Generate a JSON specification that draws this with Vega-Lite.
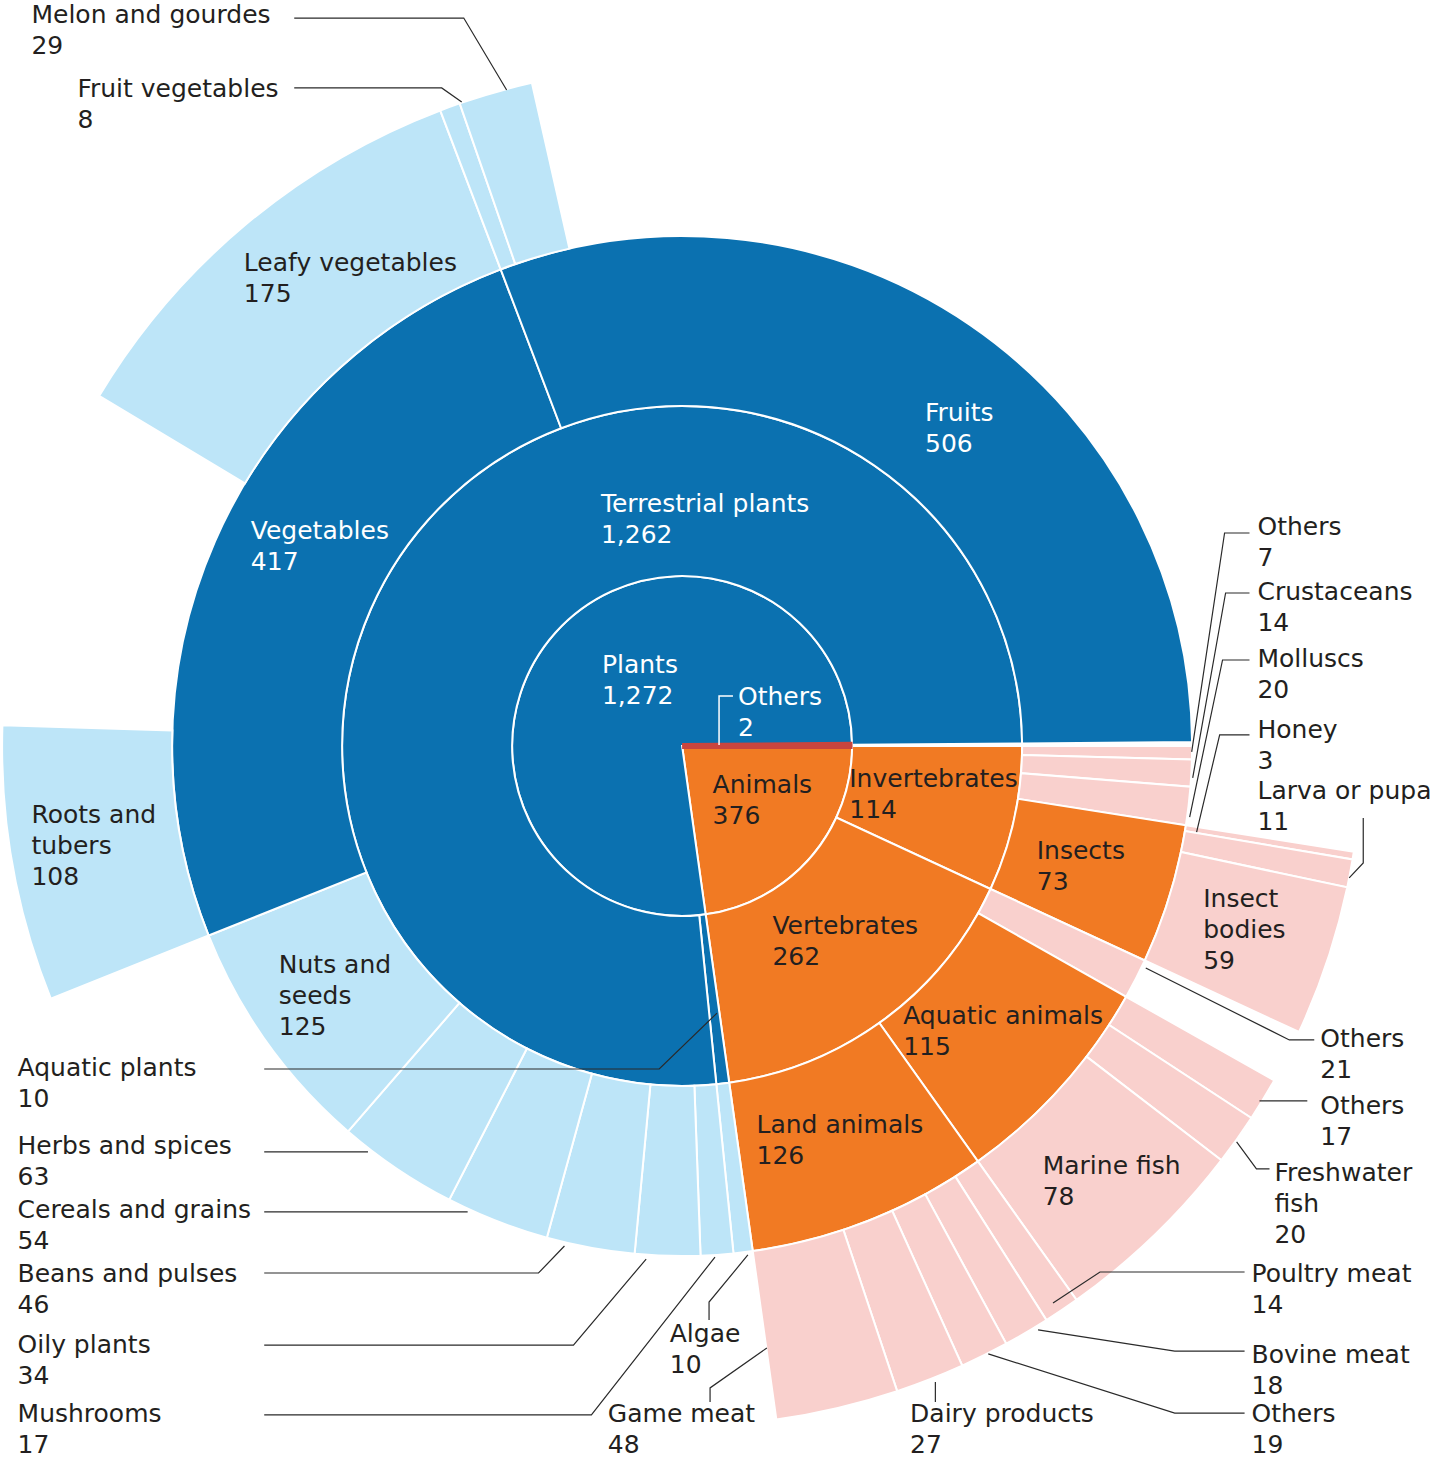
{
  "$schema": "https://vega.github.io/schema/vega-lite/v6.json",
  "width": 1431,
  "height": 1460,
  "autosize": {"type": "fit", "contains": "padding"},
  "padding": 0,
  "background": "white",
  "config": {"view": {"stroke": null}},
  "datasets": {
    "nodes": [
      {"level": 1, "ord": 1, "name": "Animals", "value": 376, "type": "Animal group"},
      {"level": 1, "ord": 2, "name": "Plants", "value": 1272, "type": "Plant group"},
      {"level": 1, "ord": 3, "name": "Others", "value": 2, "type": "Other"},
      {"level": 2, "ord": 1, "name": "Invertebrates", "value": 114, "type": "Animal group"},
      {"level": 2, "ord": 2, "name": "Vertebrates", "value": 262, "type": "Animal group"},
      {"level": 2, "ord": 3, "name": "Aquatic plants", "value": 10, "type": "Plant group"},
      {"level": 2, "ord": 4, "name": "Terrestrial plants", "value": 1262, "type": "Plant group"},
      {"level": 2, "ord": 5, "name": "Others (not subdivided)", "value": 2, "type": "gap"},
      {"level": 3, "ord": 1, "name": "Others", "value": 7, "type": "Animal item"},
      {"level": 3, "ord": 2, "name": "Crustaceans", "value": 14, "type": "Animal item"},
      {"level": 3, "ord": 3, "name": "Molluscs", "value": 20, "type": "Animal item"},
      {"level": 3, "ord": 4, "name": "Insects", "value": 73, "type": "Animal group"},
      {"level": 3, "ord": 5, "name": "Others", "value": 21, "type": "Animal item"},
      {"level": 3, "ord": 6, "name": "Aquatic animals", "value": 115, "type": "Animal group"},
      {"level": 3, "ord": 7, "name": "Land animals", "value": 126, "type": "Animal group"},
      {"level": 3, "ord": 8, "name": "Algae", "value": 10, "type": "Plant item"},
      {"level": 3, "ord": 9, "name": "Mushrooms", "value": 17, "type": "Plant item"},
      {"level": 3, "ord": 10, "name": "Oily plants", "value": 34, "type": "Plant item"},
      {"level": 3, "ord": 11, "name": "Beans and pulses", "value": 46, "type": "Plant item"},
      {"level": 3, "ord": 12, "name": "Cereals and grains", "value": 54, "type": "Plant item"},
      {"level": 3, "ord": 13, "name": "Herbs and spices", "value": 63, "type": "Plant item"},
      {"level": 3, "ord": 14, "name": "Nuts and seeds", "value": 125, "type": "Plant item"},
      {"level": 3, "ord": 15, "name": "Vegetables", "value": 417, "type": "Plant group"},
      {"level": 3, "ord": 16, "name": "Fruits", "value": 506, "type": "Plant group"},
      {"level": 3, "ord": 17, "name": "Others (not subdivided)", "value": 2, "type": "gap"},
      {"level": 4, "ord": 1, "name": "Invertebrates, other (not subdivided)", "value": 41, "type": "gap"},
      {"level": 4, "ord": 2, "name": "Honey", "value": 3, "type": "Animal item"},
      {"level": 4, "ord": 3, "name": "Larva or pupa", "value": 11, "type": "Animal item"},
      {"level": 4, "ord": 4, "name": "Insect bodies", "value": 59, "type": "Animal item"},
      {"level": 4, "ord": 5, "name": "Vertebrates, other (not subdivided)", "value": 21, "type": "gap"},
      {"level": 4, "ord": 6, "name": "Others", "value": 17, "type": "Animal item"},
      {"level": 4, "ord": 7, "name": "Freshwater fish", "value": 20, "type": "Animal item"},
      {"level": 4, "ord": 8, "name": "Marine fish", "value": 78, "type": "Animal item"},
      {"level": 4, "ord": 9, "name": "Poultry meat", "value": 14, "type": "Animal item"},
      {"level": 4, "ord": 10, "name": "Bovine meat", "value": 18, "type": "Animal item"},
      {"level": 4, "ord": 11, "name": "Others", "value": 19, "type": "Animal item"},
      {"level": 4, "ord": 12, "name": "Dairy products", "value": 27, "type": "Animal item"},
      {"level": 4, "ord": 13, "name": "Game meat", "value": 48, "type": "Animal item"},
      {"level": 4, "ord": 14, "name": "Plant items (not subdivided)", "value": 349, "type": "gap"},
      {"level": 4, "ord": 15, "name": "Roots and tubers", "value": 108, "type": "Plant item"},
      {"level": 4, "ord": 16, "name": "Vegetables, other (not subdivided)", "value": 134, "type": "gap"},
      {"level": 4, "ord": 17, "name": "Leafy vegetables", "value": 175, "type": "Plant item"},
      {"level": 4, "ord": 18, "name": "Fruit vegetables", "value": 8, "type": "Plant item"},
      {"level": 4, "ord": 19, "name": "Melon and gourdes", "value": 29, "type": "Plant item"},
      {"level": 4, "ord": 20, "name": "Fruits, other (not subdivided)", "value": 469, "type": "gap"},
      {"level": 4, "ord": 21, "name": "Others (not subdivided)", "value": 2, "type": "gap"}
    ],
    "labels": [
      {"label": "Plants\n1,272", "lx": -0.473, "ly": 0.429},
      {"label": "Others\n2", "lx": 0.33, "ly": 0.241},
      {"label": "Terrestrial plants\n1,262", "lx": -0.479, "ly": 1.376},
      {"label": "Fruits\n506", "lx": 1.433, "ly": 1.912},
      {"label": "Vegetables\n417", "lx": -2.544, "ly": 1.218},
      {"label": "Leafy vegetables\n175", "lx": -2.585, "ly": 2.794},
      {"label": "Roots and\ntubers\n108", "lx": -3.838, "ly": -0.453},
      {"label": "Nuts and\nseeds\n125", "lx": -2.379, "ly": -1.335},
      {"label": "Animals\n376", "lx": 0.18, "ly": -0.276},
      {"label": "Invertebrates\n114", "lx": 0.986, "ly": -0.241},
      {"label": "Insects\n73", "lx": 2.092, "ly": -0.665},
      {"label": "Vertebrates\n262", "lx": 0.533, "ly": -1.106},
      {"label": "Aquatic animals\n115", "lx": 1.304, "ly": -1.635},
      {"label": "Land animals\n126", "lx": 0.439, "ly": -2.276},
      {"label": "Marine fish\n78", "lx": 2.127, "ly": -2.518},
      {"label": "Insect\nbodies\n59", "lx": 3.074, "ly": -0.947},
      {"label": "Melon and gourdes\n29", "lx": -3.838, "ly": 4.253},
      {"label": "Fruit vegetables\n8", "lx": -3.567, "ly": 3.818},
      {"label": "Others\n7", "lx": 3.394, "ly": 1.241},
      {"label": "Crustaceans\n14", "lx": 3.394, "ly": 0.859},
      {"label": "Molluscs\n20", "lx": 3.394, "ly": 0.465},
      {"label": "Honey\n3", "lx": 3.394, "ly": 0.047},
      {"label": "Larva or pupa\n11", "lx": 3.394, "ly": -0.312},
      {"label": "Others\n21", "lx": 3.765, "ly": -1.771},
      {"label": "Others\n17", "lx": 3.765, "ly": -2.165},
      {"label": "Freshwater\nfish\n20", "lx": 3.494, "ly": -2.559},
      {"label": "Poultry meat\n14", "lx": 3.359, "ly": -3.153},
      {"label": "Bovine meat\n18", "lx": 3.359, "ly": -3.629},
      {"label": "Others\n19", "lx": 3.359, "ly": -3.976},
      {"label": "Dairy products\n27", "lx": 1.345, "ly": -3.976},
      {"label": "Game meat\n48", "lx": -0.438, "ly": -3.976},
      {"label": "Algae\n10", "lx": -0.073, "ly": -3.506},
      {"label": "Aquatic plants\n10", "lx": -3.92, "ly": -1.941},
      {"label": "Herbs and spices\n63", "lx": -3.92, "ly": -2.4},
      {"label": "Cereals and grains\n54", "lx": -3.92, "ly": -2.776},
      {"label": "Beans and pulses\n46", "lx": -3.92, "ly": -3.153},
      {"label": "Oily plants\n34", "lx": -3.92, "ly": -3.571},
      {"label": "Mushrooms\n17", "lx": -3.92, "ly": -3.976}
    ],
    "leaders": [
      {"id": "Melon", "pt": 1, "lx": -2.288, "ly": 4.282},
      {"id": "Melon", "pt": 2, "lx": -1.288, "ly": 4.282},
      {"id": "Melon", "pt": 3, "lx": -1.035, "ly": 3.859},
      {"id": "FruitVeg", "pt": 1, "lx": -2.288, "ly": 3.871},
      {"id": "FruitVeg", "pt": 2, "lx": -1.418, "ly": 3.871},
      {"id": "FruitVeg", "pt": 3, "lx": -1.3, "ly": 3.788},
      {"id": "Others7", "pt": 1, "lx": 3.347, "ly": 1.253},
      {"id": "Others7", "pt": 2, "lx": 3.2, "ly": 1.253},
      {"id": "Others7", "pt": 3, "lx": 3.006, "ly": -0.035},
      {"id": "Crust", "pt": 1, "lx": 3.347, "ly": 0.9},
      {"id": "Crust", "pt": 2, "lx": 3.206, "ly": 0.9},
      {"id": "Crust", "pt": 3, "lx": 3.012, "ly": -0.188},
      {"id": "Moll", "pt": 1, "lx": 3.347, "ly": 0.506},
      {"id": "Moll", "pt": 2, "lx": 3.188, "ly": 0.506},
      {"id": "Moll", "pt": 3, "lx": 2.994, "ly": -0.418},
      {"id": "Honey", "pt": 1, "lx": 3.347, "ly": 0.065},
      {"id": "Honey", "pt": 2, "lx": 3.171, "ly": 0.065},
      {"id": "Honey", "pt": 3, "lx": 3.035, "ly": -0.506},
      {"id": "Larva", "pt": 1, "lx": 4.018, "ly": -0.424},
      {"id": "Larva", "pt": 2, "lx": 4.018, "ly": -0.688},
      {"id": "Larva", "pt": 3, "lx": 3.935, "ly": -0.776},
      {"id": "Others21", "pt": 1, "lx": 3.729, "ly": -1.729},
      {"id": "Others21", "pt": 2, "lx": 3.582, "ly": -1.729},
      {"id": "Others21", "pt": 3, "lx": 2.735, "ly": -1.306},
      {"id": "Others17", "pt": 1, "lx": 3.688, "ly": -2.088},
      {"id": "Others17", "pt": 2, "lx": 3.406, "ly": -2.088},
      {"id": "Fresh", "pt": 1, "lx": 3.465, "ly": -2.488},
      {"id": "Fresh", "pt": 2, "lx": 3.388, "ly": -2.488},
      {"id": "Fresh", "pt": 3, "lx": 3.271, "ly": -2.329},
      {"id": "Poultry", "pt": 1, "lx": 3.318, "ly": -3.094},
      {"id": "Poultry", "pt": 2, "lx": 2.465, "ly": -3.094},
      {"id": "Poultry", "pt": 3, "lx": 2.188, "ly": -3.276},
      {"id": "Bovine", "pt": 1, "lx": 3.318, "ly": -3.559},
      {"id": "Bovine", "pt": 2, "lx": 2.906, "ly": -3.559},
      {"id": "Bovine", "pt": 3, "lx": 2.1, "ly": -3.435},
      {"id": "Others19", "pt": 1, "lx": 3.318, "ly": -3.924},
      {"id": "Others19", "pt": 2, "lx": 2.906, "ly": -3.924},
      {"id": "Others19", "pt": 3, "lx": 1.806, "ly": -3.576},
      {"id": "Dairy", "pt": 1, "lx": 1.494, "ly": -3.859},
      {"id": "Dairy", "pt": 2, "lx": 1.494, "ly": -3.741},
      {"id": "Game", "pt": 1, "lx": 0.165, "ly": -3.859},
      {"id": "Game", "pt": 2, "lx": 0.165, "ly": -3.776},
      {"id": "Game", "pt": 3, "lx": 0.5, "ly": -3.541},
      {"id": "Algae", "pt": 1, "lx": 0.159, "ly": -3.376},
      {"id": "Algae", "pt": 2, "lx": 0.159, "ly": -3.271},
      {"id": "Algae", "pt": 3, "lx": 0.388, "ly": -2.994},
      {"id": "Mush", "pt": 1, "lx": -2.465, "ly": -3.935},
      {"id": "Mush", "pt": 2, "lx": -0.535, "ly": -3.935},
      {"id": "Mush", "pt": 3, "lx": 0.194, "ly": -3.006},
      {"id": "Oily", "pt": 1, "lx": -2.465, "ly": -3.524},
      {"id": "Oily", "pt": 2, "lx": -0.641, "ly": -3.524},
      {"id": "Oily", "pt": 3, "lx": -0.212, "ly": -3.018},
      {"id": "Beans", "pt": 1, "lx": -2.465, "ly": -3.1},
      {"id": "Beans", "pt": 2, "lx": -0.847, "ly": -3.1},
      {"id": "Beans", "pt": 3, "lx": -0.694, "ly": -2.941},
      {"id": "Cereals", "pt": 1, "lx": -2.465, "ly": -2.741},
      {"id": "Cereals", "pt": 2, "lx": -1.265, "ly": -2.741},
      {"id": "Herbs", "pt": 1, "lx": -2.465, "ly": -2.388},
      {"id": "Herbs", "pt": 2, "lx": -1.853, "ly": -2.388},
      {"id": "AqPlants", "pt": 1, "lx": -2.465, "ly": -1.9},
      {"id": "AqPlants", "pt": 2, "lx": -0.135, "ly": -1.9},
      {"id": "AqPlants", "pt": 3, "lx": 0.206, "ly": -1.571},
      {"id": "Others2", "pt": 1, "lx": 0.218, "ly": 0.006},
      {"id": "Others2", "pt": 2, "lx": 0.218, "ly": 0.294},
      {"id": "Others2", "pt": 3, "lx": 0.3, "ly": 0.294}
    ]
  },
  "layer": [
    {
      "data": {"name": "nodes"},
      "transform": [
        {"stack": "value", "groupby": ["level"], "sort": [{"field": "ord", "order": "ascending"}], "as": ["t0", "t1"]},
        {"filter": "datum.level == 1 && datum.type != 'gap' && datum.type != 'Other'"}
      ],
      "mark": {"type": "arc", "stroke": "white", "strokeWidth": 2},
      "encoding": {
        "x": {"datum": 0, "type": "quantitative", "scale": {"domain": [-4.00588, 4.41176], "nice": false, "zero": false}, "axis": null},
        "y": {"datum": 0, "type": "quantitative", "scale": {"domain": [-4.2, 4.38824], "nice": false, "zero": false}, "axis": null},
        "theta": {"field": "t0", "type": "quantitative", "stack": null, "scale": {"domain": [0, 1650], "range": [1.5707963, 7.8539816]}},
        "theta2": {"field": "t1"},
        "radius": {"datum": 1, "type": "quantitative", "scale": {"type": "linear", "domain": [0, 4], "range": [0, 680], "zero": true}},
        "radius2": {"datum": 0},
        "color": {"field": "type", "type": "nominal", "legend": null, "scale": {"domain": ["Plant group", "Plant item", "Animal group", "Animal item", "Other"], "range": ["#0b71b0", "#bde5f8", "#f17a23", "#f9d0cd", "#c9453e"]}}
      }
    },
    {
      "data": {"name": "nodes"},
      "transform": [
        {"stack": "value", "groupby": ["level"], "sort": [{"field": "ord", "order": "ascending"}], "as": ["t0", "t1"]},
        {"filter": "datum.level == 2 && datum.type != 'gap'"}
      ],
      "mark": {"type": "arc", "stroke": "white", "strokeWidth": 2},
      "encoding": {
        "x": {"datum": 0, "type": "quantitative"},
        "y": {"datum": 0, "type": "quantitative"},
        "theta": {"field": "t0", "type": "quantitative", "stack": null, "scale": {"domain": [0, 1650], "range": [1.5707963, 7.8539816]}},
        "theta2": {"field": "t1"},
        "radius": {"datum": 2, "type": "quantitative"},
        "radius2": {"datum": 1},
        "color": {"field": "type", "type": "nominal", "legend": null}
      }
    },
    {
      "data": {"name": "nodes"},
      "transform": [
        {"stack": "value", "groupby": ["level"], "sort": [{"field": "ord", "order": "ascending"}], "as": ["t0", "t1"]},
        {"filter": "datum.level == 3 && datum.type != 'gap'"}
      ],
      "mark": {"type": "arc", "stroke": "white", "strokeWidth": 2},
      "encoding": {
        "x": {"datum": 0, "type": "quantitative"},
        "y": {"datum": 0, "type": "quantitative"},
        "theta": {"field": "t0", "type": "quantitative", "stack": null, "scale": {"domain": [0, 1650], "range": [1.5707963, 7.8539816]}},
        "theta2": {"field": "t1"},
        "radius": {"datum": 3, "type": "quantitative"},
        "radius2": {"datum": 2},
        "color": {"field": "type", "type": "nominal", "legend": null}
      }
    },
    {
      "data": {"name": "nodes"},
      "transform": [
        {"stack": "value", "groupby": ["level"], "sort": [{"field": "ord", "order": "ascending"}], "as": ["t0", "t1"]},
        {"filter": "datum.level == 4 && datum.type != 'gap'"}
      ],
      "mark": {"type": "arc", "stroke": "white", "strokeWidth": 2},
      "encoding": {
        "x": {"datum": 0, "type": "quantitative"},
        "y": {"datum": 0, "type": "quantitative"},
        "theta": {"field": "t0", "type": "quantitative", "stack": null, "scale": {"domain": [0, 1650], "range": [1.5707963, 7.8539816]}},
        "theta2": {"field": "t1"},
        "radius": {"datum": 4, "type": "quantitative"},
        "radius2": {"datum": 3},
        "color": {"field": "type", "type": "nominal", "legend": null}
      }
    },
    {
      "data": {"name": "nodes"},
      "transform": [
        {"stack": "value", "groupby": ["level"], "sort": [{"field": "ord", "order": "ascending"}], "as": ["t0", "t1"]},
        {"filter": "datum.level == 1 && datum.type == 'Other'"}
      ],
      "mark": {"type": "arc", "stroke": "#c9453e", "strokeWidth": 6},
      "encoding": {
        "x": {"datum": 0, "type": "quantitative"},
        "y": {"datum": 0, "type": "quantitative"},
        "theta": {"field": "t0", "type": "quantitative", "stack": null, "scale": {"domain": [0, 1650], "range": [1.5707963, 7.8539816]}},
        "theta2": {"field": "t1"},
        "radius": {"datum": 0.985, "type": "quantitative"},
        "radius2": {"datum": 0},
        "color": {"field": "type", "type": "nominal", "legend": null}
      }
    },
    {
      "data": {"name": "leaders"},
      "transform": [{"filter": "datum.id != 'Others2'"}],
      "mark": {"type": "line", "color": "#2a2a2a", "strokeWidth": 1.2},
      "encoding": {
        "x": {"field": "lx", "type": "quantitative"},
        "y": {"field": "ly", "type": "quantitative"},
        "detail": {"field": "id"},
        "order": {"field": "pt"}
      }
    },
    {
      "data": {"name": "leaders"},
      "transform": [{"filter": "datum.id == 'Others2'"}],
      "mark": {"type": "line", "color": "white", "strokeWidth": 1.5},
      "encoding": {
        "x": {"field": "lx", "type": "quantitative"},
        "y": {"field": "ly", "type": "quantitative"},
        "detail": {"field": "id"},
        "order": {"field": "pt"}
      }
    },
    {
      "data": {"name": "labels"},
      "transform": [{"filter": {"field": "label", "oneOf": ["Plants\n1,272", "Others\n2", "Terrestrial plants\n1,262", "Fruits\n506", "Vegetables\n417"]}}],
      "mark": {"type": "text", "align": "left", "baseline": "alphabetic", "font": "DejaVu Sans", "fontSize": 25, "lineHeight": 31, "lineBreak": "\n", "color": "white"},
      "encoding": {
        "x": {"field": "lx", "type": "quantitative"},
        "y": {"field": "ly", "type": "quantitative"},
        "text": {"field": "label"}
      }
    },
    {
      "data": {"name": "labels"},
      "transform": [{"filter": {"not": {"field": "label", "oneOf": ["Plants\n1,272", "Others\n2", "Terrestrial plants\n1,262", "Fruits\n506", "Vegetables\n417"]}}}],
      "mark": {"type": "text", "align": "left", "baseline": "alphabetic", "font": "DejaVu Sans", "fontSize": 25, "lineHeight": 31, "lineBreak": "\n", "color": "#231f20"},
      "encoding": {
        "x": {"field": "lx", "type": "quantitative"},
        "y": {"field": "ly", "type": "quantitative"},
        "text": {"field": "label"}
      }
    }
  ]
}
